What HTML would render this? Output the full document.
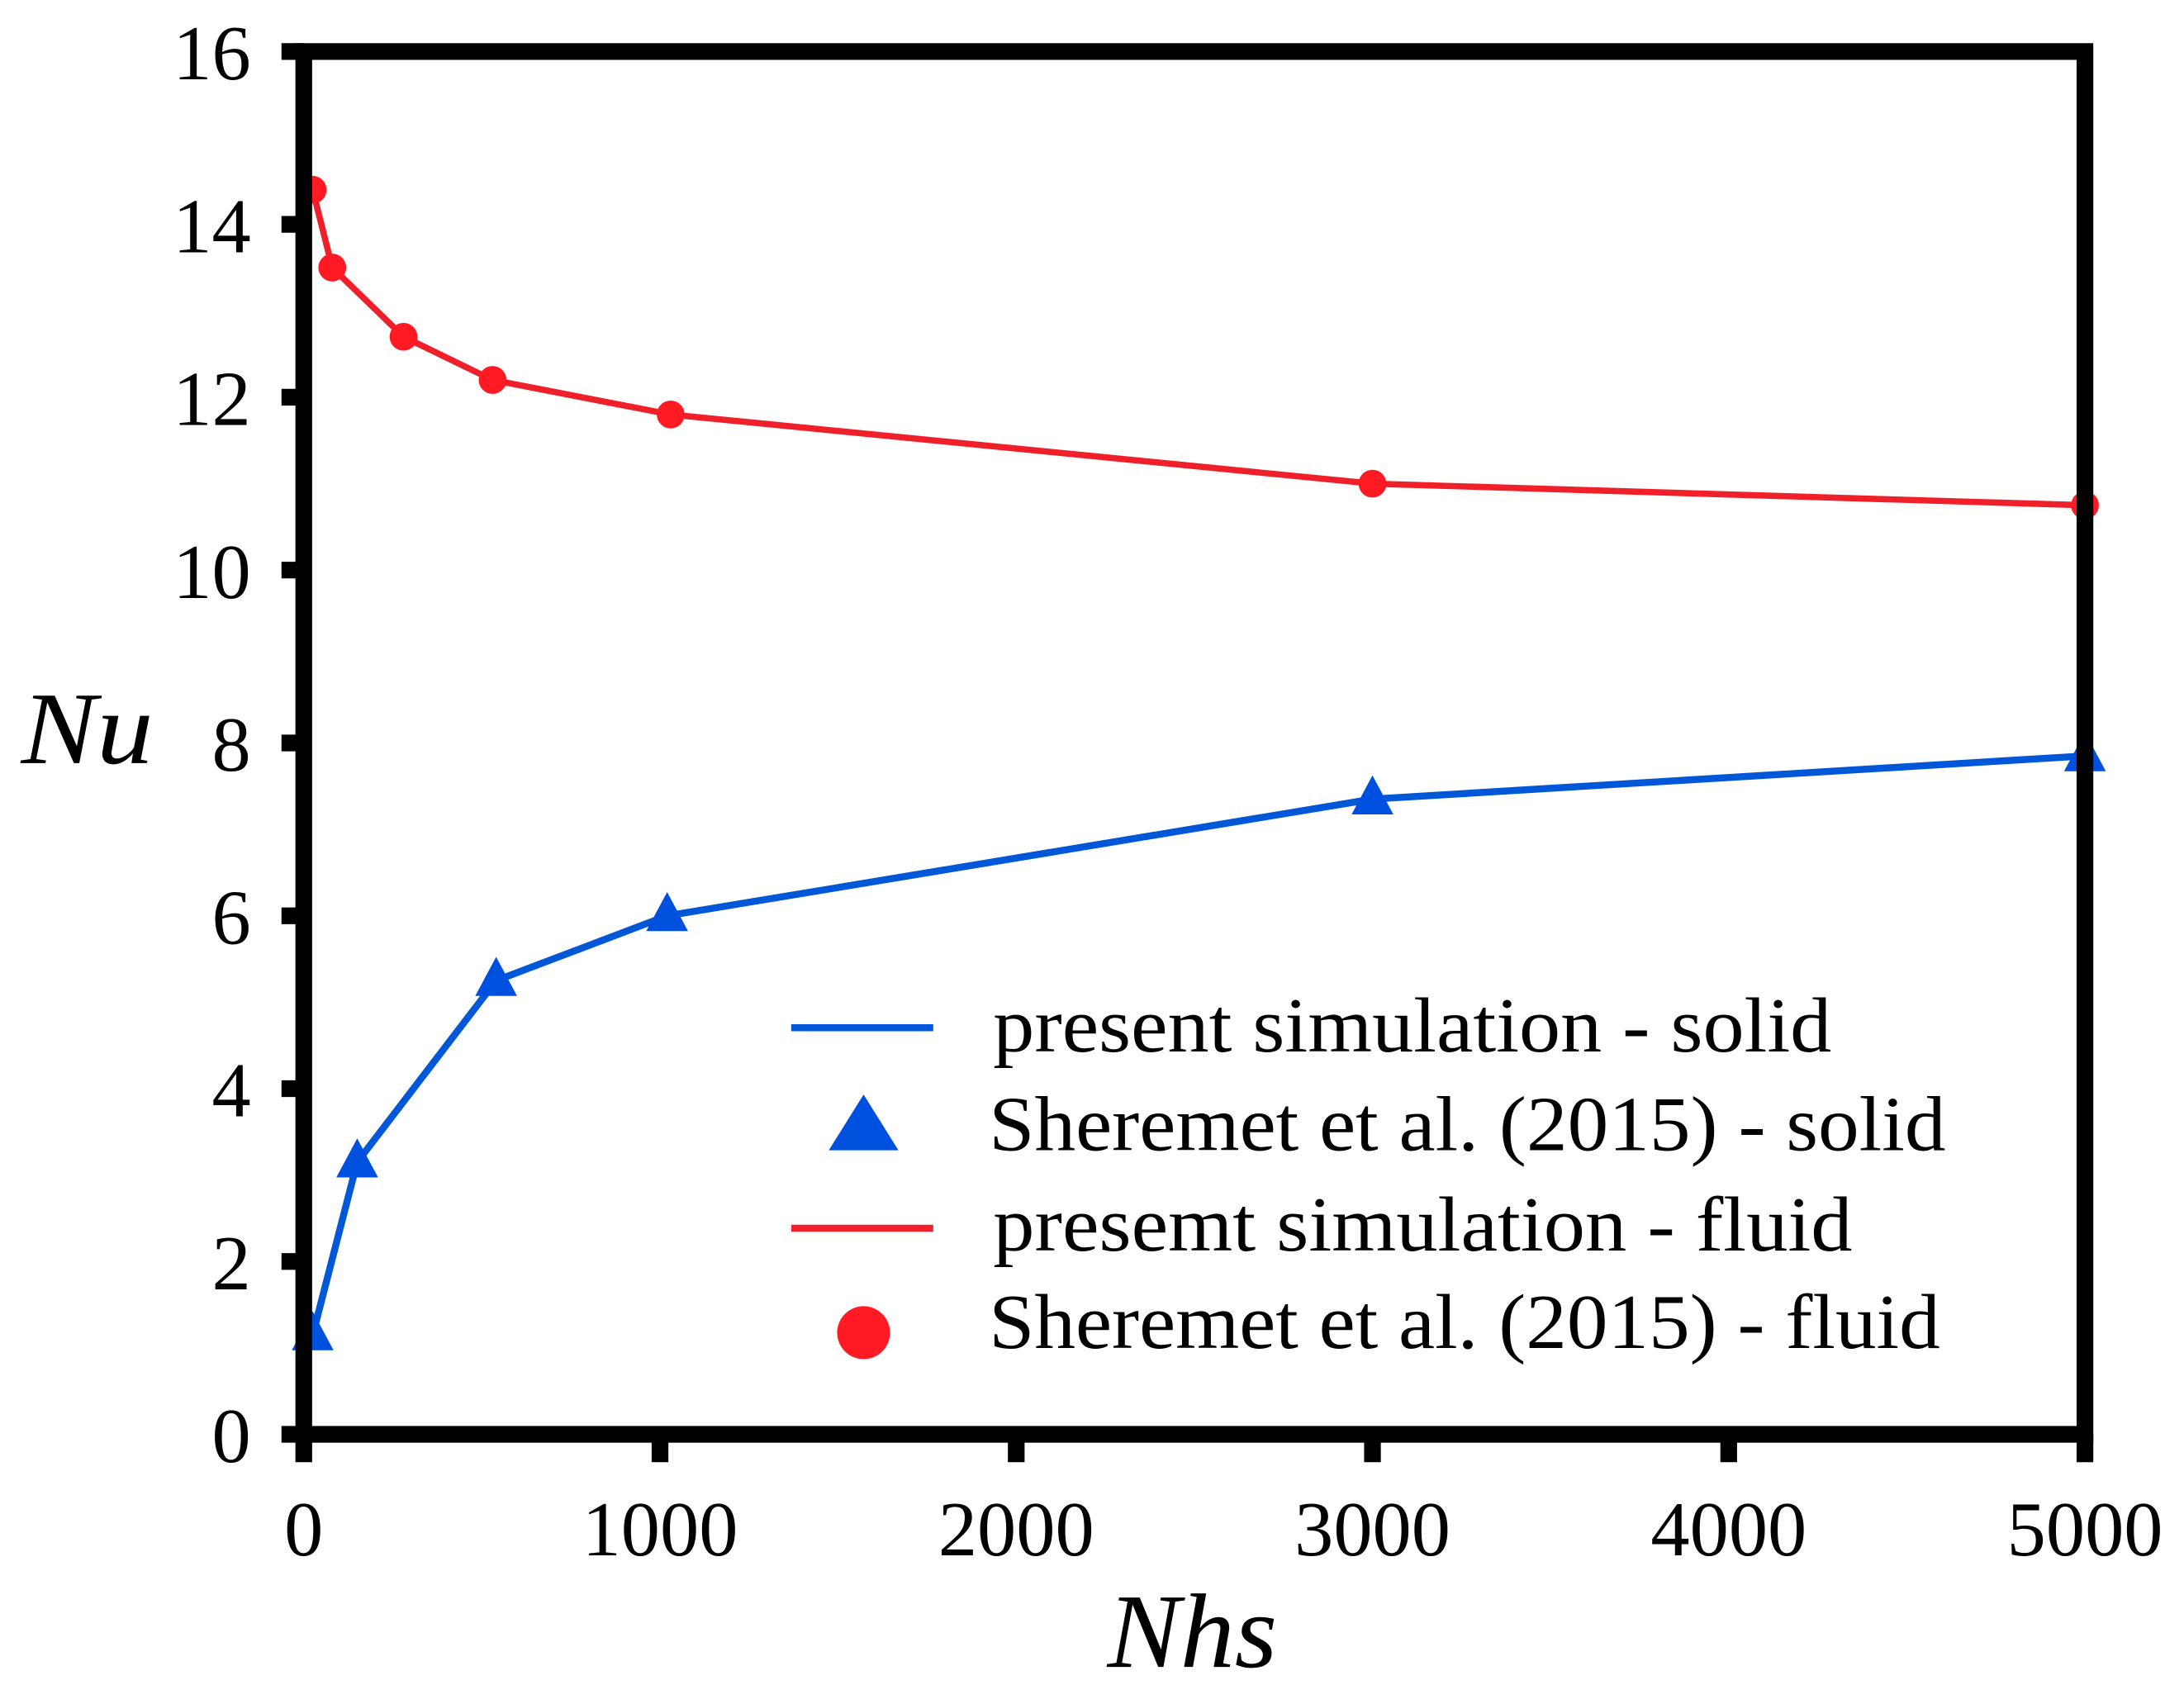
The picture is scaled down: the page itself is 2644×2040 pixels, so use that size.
<!DOCTYPE html>
<html><head><meta charset="utf-8"><style>html,body{margin:0;padding:0;background:#fff}svg{display:block}</style></head>
<body>
<svg id="chart" width="2644" height="2040" viewBox="0 0 1568 1210" xmlns="http://www.w3.org/2000/svg" font-family="'Liberation Serif', serif">
<g id="plot"></g>
<g id="axes"></g>
<g id="legend">
  <line x1="568" y1="738" x2="670" y2="738" stroke="#0057d8" stroke-width="5"/>
  <text x="713" y="755" font-size="56" textLength="602" lengthAdjust="spacingAndGlyphs">present simulation - solid</text>
  <polygon points="620,786 645,826 595,826" fill="#0050e0"/>
  <text x="710" y="826" font-size="56" textLength="687" lengthAdjust="spacingAndGlyphs">Sheremet et al. (2015) - solid</text>
  <line x1="568" y1="882" x2="670" y2="882" stroke="#f0202a" stroke-width="5"/>
  <text x="713" y="898" font-size="56" textLength="617" lengthAdjust="spacingAndGlyphs">presemt simulation - fluid</text>
  <circle cx="620" cy="957" r="19" fill="#ff1a24"/>
  <text x="710" y="968" font-size="56" textLength="683" lengthAdjust="spacingAndGlyphs">Sheremet et al. (2015) - fluid</text>
</g>
<text x="15" y="548" font-size="74" font-style="italic" textLength="95" lengthAdjust="spacingAndGlyphs">Nu</text>
<text x="795" y="1197" font-size="76" font-style="italic" textLength="122" lengthAdjust="spacingAndGlyphs">Nhs</text>
</svg>
<script>
const xTicks = [0, 1000, 2000, 3000, 4000, 5000];
const yTicks = [0, 2, 4, 6, 8, 10, 12, 14, 16];
const fluidX = [25, 80, 280, 530, 1030, 3000, 5000];
const fluidY = [14.4, 13.5, 12.7, 12.2, 11.8, 11.0, 10.75];
const solidX = [25, 150, 540, 1020, 3000, 5000];
const solidY = [1.15, 3.15, 5.25, 6.0, 7.35, 7.85];

const L = 218, R = 1497, T = 37, B = 1030;
const sx = v => L + (v - 0) / 5000 * (R - L);
const sy = v => B - (v - 0) / 16 * (B - T);
const NS = 'http://www.w3.org/2000/svg';
function mk(tag, attrs, parent) {
  const e = document.createElementNS(NS, tag);
  for (const k in attrs) e.setAttribute(k, attrs[k]);
  parent.appendChild(e);
  return e;
}
const plot = document.getElementById('plot');
const axes = document.getElementById('axes');

const redPts = fluidX.map((x, i) => sx(x) + ',' + sy(fluidY[i])).join(' ');
const redLine = mk('polyline', {points: redPts, fill: 'none', stroke: '#f0202a', 'stroke-width': 4.5}, plot);


const bluePts = solidX.map((x, i) => sx(x) + ',' + sy(solidY[i])).join(' ');
const blueLine = mk('polyline', {points: bluePts, fill: 'none', stroke: '#0057d8', 'stroke-width': 5}, plot);


fluidX.forEach((x, i) => {
  const c = mk('circle', {cx: sx(x), cy: sy(fluidY[i]), r: 10, fill: '#ff1a24'}, plot);
  
  
});
solidX.forEach((x, i) => {
  const cx = sx(x), cy = sy(solidY[i]);
  const p = mk('polygon', {points: (cx) + ',' + (cy - 17) + ' ' + (cx + 15) + ',' + (cy + 11) + ' ' + (cx - 15) + ',' + (cy + 11), fill: '#0050e0'}, plot);
  
  
});

const frame = mk('rect', {x: L, y: T, width: R - L, height: B - T, fill: 'none', stroke: '#000', 'stroke-width': 12}, axes);



yTicks.forEach(v => {
  const y = sy(v);
  const t = mk('line', {x1: L - 16, y1: y, x2: L, y2: y, stroke: '#000', 'stroke-width': 12}, axes);
  
  
  const s = String(v);
  const lb = mk('text', {x: 180, y: y + 20, 'font-size': 56, 'text-anchor': 'end', textLength: s.length * 28, lengthAdjust: 'spacingAndGlyphs'}, axes);
  
  
  lb.textContent = s;
});
xTicks.forEach(v => {
  const x = sx(v);
  const t = mk('line', {x1: x, y1: B, x2: x, y2: B + 20, stroke: '#000', 'stroke-width': 12}, axes);
  
  
  const s = String(v);
  const lb = mk('text', {x: x, y: 1117, 'font-size': 56, 'text-anchor': 'middle', textLength: s.length * 28, lengthAdjust: 'spacingAndGlyphs'}, axes);
  
  
  lb.textContent = s;
});
</script>
</body></html>
